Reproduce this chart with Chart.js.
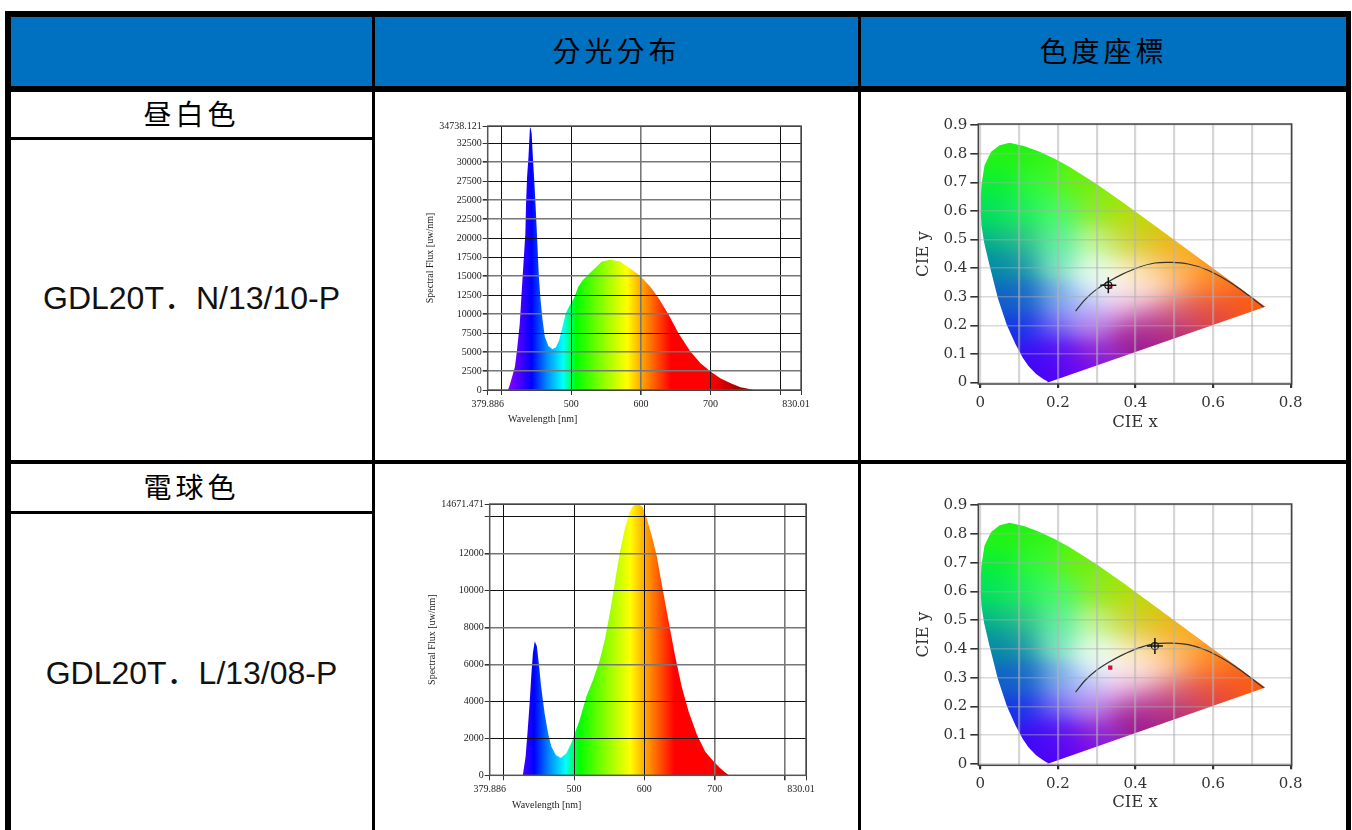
<!DOCTYPE html>
<html lang="zh-Hant">
<head>
    <meta charset="UTF-8">
    <title>分光分布 / 色度座標</title>
    <script src="https://cdn.jsdelivr.net/npm/chart.js"></script>
    <style>
        html, body { margin: 0; background: #fff; }
        body { position: relative; width: 1352px; height: 830px; overflow: hidden; }
        .bar { position: absolute; background: #000; }
        .blue { position: absolute; background: #0070c0; }
        .cell {
            position: absolute;
            text-align: center;
            color: #000;
            font-family: "Noto Sans CJK TC", sans-serif;
            font-size: 28px;
            letter-spacing: 4px;
            line-height: 36px;
            white-space: nowrap;
        }
        .model {
            position: absolute;
            text-align: center;
            color: #111;
            font-family: "Liberation Sans", "Noto Sans CJK JP", sans-serif;
            font-size: 32px;
            line-height: 40px;
            white-space: nowrap;
        }
        .xname {
            position: absolute;
            font-family: "Liberation Serif", serif;
            font-size: 10px;
            line-height: 12px;
            color: #222;
            white-space: nowrap;
        }
        canvas { position: absolute; }
    </style>
</head>
<body>
    <div class="blue" style="left:11px;top:17px;width:1335px;height:69px"></div>

    <div class="bar" style="left:5px;top:11px;width:1346px;height:6px"></div>
    <div class="bar" style="left:5px;top:86px;width:1346px;height:6px"></div>
    <div class="bar" style="left:5px;top:460px;width:1346px;height:4px"></div>
    <div class="bar" style="left:11px;top:137px;width:361px;height:3px"></div>
    <div class="bar" style="left:11px;top:511px;width:361px;height:3px"></div>
    <div class="bar" style="left:5px;top:11px;width:6px;height:819px"></div>
    <div class="bar" style="left:372px;top:17px;width:3px;height:813px"></div>
    <div class="bar" style="left:858px;top:17px;width:3px;height:813px"></div>
    <div class="bar" style="left:1346px;top:11px;width:5px;height:819px"></div>

    <div class="cell" style="left:375px;top:32px;width:483px">分光分布</div>
    <div class="cell" style="left:861px;top:32px;width:485px">色度座標</div>
    <div class="cell" style="left:11px;top:95px;width:361px">昼白色</div>
    <div class="cell" style="left:11px;top:468px;width:361px">電球色</div>
    <div class="model" lang="ja" style="left:11px;top:278px;width:361px">GDL20T．N/13/10-P</div>
    <div class="model" lang="ja" style="left:11px;top:653px;width:361px">GDL20T．L/13/08-P</div>

    <canvas id="specN" width="400" height="315" style="left:420px;top:115px"></canvas>
    <canvas id="specL" width="400" height="335" style="left:420px;top:490px"></canvas>
    <canvas id="cieN" width="400" height="325" style="left:905px;top:110px"></canvas>
    <canvas id="cieL" width="400" height="325" style="left:905px;top:490px"></canvas>

    <div class="xname" style="left:508px;top:413px">Wavelength [nm]</div>
    <div class="xname" style="left:512px;top:799px">Wavelength [nm]</div>

    <script>
        // spectrum, daylight white
        const wavelengthN = [409, 411.5, 415, 419, 422, 426, 428, 431, 434, 435, 436.5, 438.5, 440.4, 441.3, 443, 445, 447, 449, 451, 453.4, 455.8, 458.7, 462, 467, 473, 478, 482.7, 487.5, 492, 498, 503.8, 510, 517, 529, 536.5, 543.8, 556, 570, 582, 599, 613.5, 625.5, 640, 654, 671, 685.6, 700, 714, 729, 743, 757.7, 762];
        const fluxN = [0, 660, 1750, 3070, 5270, 8780, 11860, 16250, 20640, 24600, 28100, 30700, 34250, 34600, 33800, 30300, 27200, 23700, 19760, 14900, 11860, 9200, 7000, 5800, 5360, 5620, 6590, 8340, 10100, 11200, 12080, 13600, 14500, 15600, 16250, 16900, 17130, 16900, 16160, 15000, 13600, 12080, 9880, 7470, 5050, 3510, 2420, 1540, 880, 350, 90, 0];
        const fluxTicksN = [0, 2500, 5000, 7500, 10000, 12500, 15000, 17500, 20000, 22500, 25000, 27500, 30000, 32500, 34738.121];
        const fluxGreyN = [2500, 5000, 10000, 15000, 22500, 25000, 30000];

        // spectrum, warm white
        const wavelengthL = [427, 431, 434, 436.7, 439, 441.4, 444, 447, 450, 453, 458, 463, 467.6, 474, 481, 489, 496, 501, 508, 517.6, 527, 536.7, 543.8, 551, 558, 565, 572, 578.6, 584, 591.4, 597.6, 603, 610.5, 617.6, 624.8, 634, 643.8, 653, 662.9, 674.8, 686.7, 698.6, 708, 715, 720.5];
        const fluxL = [0, 1010, 2460, 3900, 5350, 6620, 7250, 6980, 5985, 4810, 3360, 2280, 1555, 1100, 940, 1190, 1735, 2280, 3000, 4270, 5170, 6260, 7340, 8790, 10420, 12040, 13300, 14200, 14580, 14680, 14490, 13940, 12950, 11860, 10330, 8430, 6440, 4810, 3450, 2190, 1280, 740, 380, 150, 0];
        const fluxTicksL = [0, 2000, 4000, 6000, 8000, 10000, 12000, 14000, 14671.471];
        const fluxGreyL = [6000, 8000, 12000];

        const wavelengthTicks = [379.886, 400, 500, 600, 700, 800, 830.01];
        const wavelengthGreyN = [600];
        const wavelengthGreyL = [700, 800];

        // edge of the horseshoe
        const locusX = [0.1741, 0.1733, 0.1714, 0.1644, 0.1566, 0.1440, 0.1241, 0.1096, 0.0913, 0.0687, 0.0454, 0.0235, 0.0100, 0.0030, 0.0010, 0.0015, 0.0030, 0.0110, 0.0280, 0.0500, 0.0757, 0.1142, 0.1547, 0.1929, 0.2296, 0.3016, 0.3731, 0.4441, 0.5125, 0.5752, 0.6270, 0.6658, 0.6915, 0.7079, 0.7190, 0.7347, 0.1741];
        const locusY = [0.0005, 0.0048, 0.0051, 0.0109, 0.0177, 0.0297, 0.0578, 0.0868, 0.1327, 0.2007, 0.2950, 0.4127, 0.4900, 0.5500, 0.6000, 0.6500, 0.6900, 0.7600, 0.8070, 0.8300, 0.8385, 0.8262, 0.8059, 0.7816, 0.7543, 0.6923, 0.6245, 0.5547, 0.4866, 0.4242, 0.3725, 0.3340, 0.3083, 0.2920, 0.2809, 0.2653, 0.0005];

        // black body curve
        const planckX = [0.2457, 0.27, 0.2955, 0.33, 0.364, 0.407, 0.45, 0.493, 0.536, 0.579, 0.622, 0.665, 0.70, 0.73];
        const planckY = [0.2497, 0.29, 0.3215, 0.3525, 0.3775, 0.4025, 0.418, 0.42, 0.4146, 0.397, 0.368, 0.331, 0.296, 0.264];

        const cieTicksX = [0, 0.1, 0.2, 0.3, 0.4, 0.5, 0.6, 0.7, 0.8];
        const cieTicksY = [0, 0.1, 0.2, 0.3, 0.4, 0.5, 0.6, 0.7, 0.8, 0.9];

        const measuredN = [0.33, 0.34];
        const measuredL = [0.45, 0.41];
        const referencePoint = [0.335, 0.335];

        // rainbow under the spectrum: nm and colour
        const rainbow = [
            [409, '#8a00ff'], [426, '#4a00ff'], [443, '#0000ff'], [465, '#008cff'],
            [488, '#00ffff'], [507, '#00ff00'], [541, '#7dff00'], [580, '#ffff00'],
            [600, '#ffaa00'], [643, '#ff0000'], [700, '#ff0000'], [752, '#8c0000']
        ];

        // colours: x, y, r, g, b
        const cieColors = [
            [0.05, 0.80, 40, 245, 20], [0.10, 0.82, 20, 240, 20], [0.15, 0.78, 60, 245, 20],
            [0.05, 0.70, 10, 240, 50], [0.15, 0.70, 50, 250, 60], [0.25, 0.70, 110, 240, 10],
            [0.03, 0.60, 0, 225, 90], [0.10, 0.60, 30, 240, 90], [0.20, 0.60, 70, 250, 100],
            [0.30, 0.60, 130, 240, 50], [0.35, 0.62, 150, 230, 0], [0.38, 0.58, 190, 220, 10],
            [0.03, 0.50, 0, 190, 130], [0.10, 0.50, 50, 200, 130], [0.20, 0.50, 90, 240, 150],
            [0.30, 0.50, 190, 250, 150], [0.35, 0.50, 200, 230, 100], [0.40, 0.50, 205, 205, 50],
            [0.40, 0.55, 195, 215, 0], [0.45, 0.50, 225, 190, 0], [0.50, 0.46, 250, 165, 0],
            [0.02, 0.43, 0, 140, 160], [0.10, 0.42, 40, 160, 170], [0.20, 0.42, 120, 230, 190],
            [0.30, 0.42, 220, 255, 220], [0.40, 0.42, 245, 235, 160], [0.45, 0.45, 235, 200, 90],
            [0.05, 0.40, 0, 130, 170], [0.50, 0.42, 255, 175, 50], [0.60, 0.38, 255, 140, 0],
            [0.06, 0.30, 10, 90, 200], [0.10, 0.30, 30, 110, 200], [0.20, 0.30, 100, 160, 225],
            [0.27, 0.30, 170, 215, 250], [0.33, 0.33, 255, 255, 255], [0.40, 0.32, 255, 235, 225],
            [0.30, 0.37, 235, 252, 240], [0.40, 0.37, 255, 238, 205], [0.45, 0.38, 255, 215, 170],
            [0.50, 0.37, 255, 190, 120], [0.55, 0.37, 255, 160, 70], [0.60, 0.33, 255, 120, 40],
            [0.45, 0.33, 255, 225, 200], [0.50, 0.30, 240, 150, 120], [0.60, 0.30, 250, 100, 50],
            [0.70, 0.28, 255, 100, 10], [0.73, 0.265, 255, 90, 10], [0.65, 0.26, 240, 80, 40],
            [0.10, 0.20, 20, 50, 235], [0.20, 0.20, 110, 100, 245], [0.27, 0.25, 190, 170, 255],
            [0.30, 0.20, 180, 110, 230], [0.35, 0.27, 235, 200, 250], [0.40, 0.25, 210, 120, 200],
            [0.40, 0.20, 180, 50, 150], [0.40, 0.30, 250, 225, 230], [0.45, 0.25, 210, 120, 170],
            [0.50, 0.25, 210, 90, 120], [0.55, 0.25, 220, 80, 80], [0.60, 0.23, 220, 60, 70],
            [0.45, 0.19, 170, 40, 130], [0.50, 0.19, 180, 40, 120], [0.40, 0.15, 150, 20, 150],
            [0.15, 0.10, 50, 10, 245], [0.20, 0.10, 100, 20, 245], [0.30, 0.10, 150, 40, 210],
            [0.17, 0.02, 70, 0, 250], [0.25, 0.05, 110, 0, 240]
        ];
        const cieBlur = 0.045;

        const serif10 = { family: '"Liberation Serif", serif', size: 10 };
        const serif15 = { family: '"DejaVu Serif", serif', size: 15 };
        const serif16 = { family: '"DejaVu Serif", serif', size: 16.5 };

        // plot frame, chart.js only draws two sides
        const framePlugin = {
            id: 'frame',
            afterDraw(chart, args, opts) {
                const a = chart.chartArea, c = chart.ctx;
                c.save();
                c.strokeStyle = opts.color;
                c.lineWidth = opts.width;
                c.strokeRect(a.left, a.top, a.right - a.left, a.bottom - a.top);
                c.restore();
            }
        };

        function toPoints(xs, ys) {
            return xs.map((x, i) => ({ x: x, y: ys[i] }));
        }

        function fixedTicks(values) {
            return scale => { scale.ticks = values.map(v => ({ value: v })); };
        }

        function fitY(width) {
            return s => { s.width = width; s.paddingTop = 0; s.paddingBottom = 0; };
        }

        function fitX(height) {
            return s => { s.height = height; s.paddingLeft = 0; s.paddingRight = 0; };
        }

        function rainbowFill(ctx) {
            const chart = ctx.chart;
            if (!chart.chartArea) return 'transparent';
            const sx = chart.scales.x;
            const first = rainbow[0][0], last = rainbow[rainbow.length - 1][0];
            const g = chart.ctx.createLinearGradient(sx.getPixelForValue(first), 0, sx.getPixelForValue(last), 0);
            rainbow.forEach(s => g.addColorStop((s[0] - first) / (last - first), s[1]));
            return g;
        }

        // the last label sits left of its tick in the original, the blanks push it over
        function wavelengthLabel(v) {
            if (v === 400 || v === 800) return '';
            return v === 830.01 ? '830.01    ' : String(v);
        }

        function spectrumChart(id, cfg) {
            new Chart(document.getElementById(id), {
                type: 'scatter',
                data: {
                    datasets: [{
                        data: toPoints(cfg.nm, cfg.flux),
                        showLine: true,
                        tension: 0,
                        pointRadius: 0,
                        borderWidth: 0,
                        fill: 'origin',
                        backgroundColor: rainbowFill
                    }]
                },
                plugins: [framePlugin],
                options: {
                    responsive: false,
                    animation: false,
                    devicePixelRatio: 1,
                    layout: { padding: cfg.padding },
                    plugins: {
                        legend: { display: false },
                        tooltip: { enabled: false },
                        frame: { color: '#555', width: 1.5 }
                    },
                    scales: {
                        x: {
                            type: 'linear',
                            min: 379.886,
                            max: 830.01,
                            afterBuildTicks: fixedTicks(wavelengthTicks),
                            afterFit: fitX(cfg.xHeight),
                            border: { display: false },
                            grid: {
                                z: 1,
                                tickLength: 5,
                                tickColor: '#333',
                                color: c => cfg.greyX.includes(c.tick.value) ? '#777' : '#111',
                                lineWidth: c => cfg.greyX.includes(c.tick.value) ? 1.6 : 1
                            },
                            ticks: {
                                autoSkip: false,
                                maxRotation: 0,
                                padding: 3,
                                color: '#222',
                                font: serif10,
                                callback: wavelengthLabel
                            }
                        },
                        y: {
                            min: 0,
                            max: cfg.ticks[cfg.ticks.length - 1],
                            afterBuildTicks: fixedTicks(cfg.ticks),
                            afterFit: fitY(cfg.yWidth),
                            border: { display: false },
                            grid: {
                                z: 1,
                                tickLength: 5,
                                tickColor: '#333',
                                color: c => cfg.greyY.includes(c.tick.value) ? '#777' : '#111',
                                lineWidth: c => cfg.greyY.includes(c.tick.value) ? 1.6 : 1
                            },
                            ticks: {
                                autoSkip: false,
                                padding: 1,
                                color: '#222',
                                font: serif10,
                                callback: v => v === cfg.hideTick ? '' : String(v)
                            },
                            title: {
                                display: true,
                                text: 'Spectral Flux [uw/nm]',
                                color: '#222',
                                font: serif10,
                                padding: { top: cfg.titleLeft, bottom: 0 }
                            }
                        }
                    }
                }
            });
        }

        // colour of one chromaticity, blended from the colours read above
        function cieColor(x, y) {
            let r = 0, g = 0, b = 0, sum = 0;
            for (const c of cieColors) {
                const dx = x - c[0], dy = y - c[1];
                const w = Math.exp(-(dx * dx + dy * dy) / (2 * cieBlur * cieBlur));
                r += w * c[2]; g += w * c[3]; b += w * c[4]; sum += w;
            }
            return [r / sum, g / sum, b / sum];
        }

        // pattern is cached, it lines up with the canvas origin
        const patterns = {};
        function horseshoeFill(ctx) {
            const chart = ctx.chart;
            if (!chart.chartArea) return 'transparent';
            if (patterns[chart.id]) return patterns[chart.id];
            const off = document.createElement('canvas');
            off.width = chart.width;
            off.height = chart.height;
            const oc = off.getContext('2d');
            const img = oc.createImageData(off.width, off.height);
            const a = chart.chartArea;
            for (let py = Math.floor(a.top); py < a.bottom; py++) {
                const vy = chart.scales.y.getValueForPixel(py);
                for (let px = Math.floor(a.left); px < a.right; px++) {
                    const col = cieColor(chart.scales.x.getValueForPixel(px), vy);
                    const i = (py * off.width + px) * 4;
                    img.data[i] = col[0];
                    img.data[i + 1] = col[1];
                    img.data[i + 2] = col[2];
                    img.data[i + 3] = 255;
                }
            }
            oc.putImageData(img, 0, 0);
            patterns[chart.id] = chart.ctx.createPattern(off, 'no-repeat');
            return patterns[chart.id];
        }

        function cieChart(id, cfg) {
            new Chart(document.getElementById(id), {
                type: 'scatter',
                data: {
                    datasets: [
                        {
                            data: [{ x: cfg.measured[0], y: cfg.measured[1] }],
                            pointStyle: 'cross',
                            pointRadius: 8,
                            pointBorderWidth: 1.5,
                            pointBorderColor: '#111'
                        },
                        {
                            data: [{ x: cfg.measured[0], y: cfg.measured[1] }],
                            pointStyle: 'circle',
                            pointRadius: 3.5,
                            pointBorderWidth: 1.2,
                            pointBorderColor: '#222',
                            pointBackgroundColor: 'rgba(255,255,255,0.15)'
                        },
                        {
                            data: [{ x: referencePoint[0], y: referencePoint[1] }],
                            pointStyle: 'rect',
                            pointRadius: 3,
                            pointBorderWidth: 0,
                            pointBackgroundColor: '#d0103a'
                        },
                        {
                            data: toPoints(planckX, planckY),
                            showLine: true,
                            tension: 0.3,
                            pointRadius: 0,
                            borderWidth: 1.2,
                            borderColor: '#333',
                            fill: false
                        },
                        {
                            data: toPoints(locusX, locusY),
                            showLine: true,
                            tension: 0,
                            pointRadius: 0,
                            borderWidth: 0,
                            fill: 'shape',
                            backgroundColor: horseshoeFill
                        }
                    ]
                },
                plugins: [framePlugin],
                options: {
                    responsive: false,
                    animation: false,
                    devicePixelRatio: 1,
                    layout: { padding: { left: 0, top: 14, right: 13.3, bottom: 0 } },
                    plugins: {
                        legend: { display: false },
                        tooltip: { enabled: false },
                        frame: { color: '#444', width: 1.5 }
                    },
                    scales: {
                        x: {
                            type: 'linear',
                            min: -0.005,
                            max: 0.8025,
                            afterBuildTicks: fixedTicks(cieTicksX),
                            afterFit: fitX(cfg.xHeight),
                            border: { display: false },
                            grid: {
                                z: 1,
                                tickLength: 4,
                                tickColor: c => c.tick.value * 10 % 2 < 0.01 ? '#333' : 'rgba(0,0,0,0)',
                                color: 'rgba(180,180,180,0.55)',
                                lineWidth: 2.2
                            },
                            ticks: {
                                autoSkip: false,
                                maxRotation: 0,
                                padding: 6,
                                color: '#333',
                                font: serif15,
                                callback: v => [0, 0.2, 0.4, 0.6, 0.8].includes(v) ? String(v) : ''
                            },
                            title: {
                                display: true,
                                text: 'CIE x',
                                color: '#333',
                                font: serif16,
                                padding: { top: 0, bottom: 2 }
                            }
                        },
                        y: {
                            min: -0.005,
                            max: 0.904,
                            afterBuildTicks: fixedTicks(cieTicksY),
                            afterFit: fitY(73.3),
                            border: { display: false },
                            grid: {
                                z: 1,
                                tickLength: 8,
                                tickColor: '#333',
                                color: 'rgba(170,170,170,0.45)',
                                lineWidth: 1.6
                            },
                            ticks: {
                                autoSkip: false,
                                padding: 3,
                                color: '#333',
                                font: serif15,
                                callback: v => String(v)
                            },
                            title: {
                                display: true,
                                text: 'CIE y',
                                color: '#333',
                                font: serif16,
                                padding: { top: 9, bottom: 0 }
                            }
                        }
                    }
                }
            });
        }

        spectrumChart('specN', {
            nm: wavelengthN, flux: fluxN, ticks: fluxTicksN,
            greyX: wavelengthGreyN, greyY: fluxGreyN,
            padding: { left: 0, top: 11, right: 19, bottom: 0 },
            yWidth: 67.7, xHeight: 40, titleLeft: 4
        });

        spectrumChart('specL', {
            nm: wavelengthL, flux: fluxL, ticks: fluxTicksL,
            greyX: wavelengthGreyL, greyY: fluxGreyL,
            padding: { left: 0, top: 14, right: 14, bottom: 0 },
            yWidth: 69.7, xHeight: 49.7, titleLeft: 6, hideTick: 14000
        });

        cieChart('cieN', { measured: measuredN, xHeight: 51 });
        cieChart('cieL', { measured: measuredL, xHeight: 49.7 });
    </script>
</body>
</html>
